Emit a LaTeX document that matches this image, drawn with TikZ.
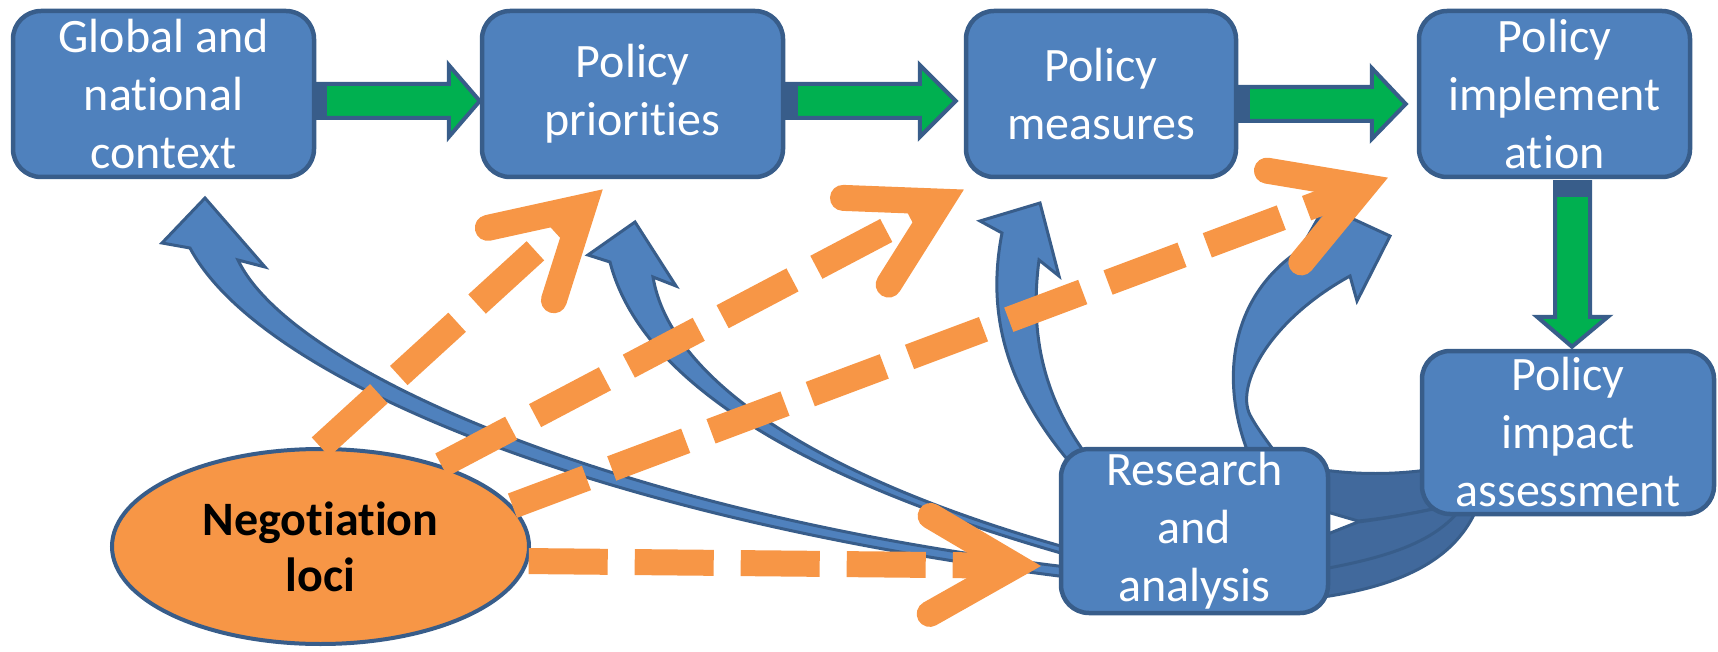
\documentclass[tikz,border=0pt]{standalone}
\usepackage{fontspec}
\setmainfont{Carlito}[Ligatures={NoCommon,NoRare,NoContextual},Contextuals={NoAlternate}]
\usetikzlibrary{shapes.geometric,calc}
\definecolor{boxblue}{HTML}{4F81BD}
\definecolor{edgeblue}{HTML}{385D8A}
\definecolor{loopblue}{HTML}{41699C}
\definecolor{arrgreen}{HTML}{00B050}
\definecolor{negorange}{HTML}{F79646}
\newcommand\negarrow[3]{%
  \coordinate (#3) at ($(#2)!12.5pt!(#1)$);
  \draw[odash] (#1) -- (#3);
  \draw[ohead] ($(#3)!49pt!30:(#1)$) -- (#3) -- ($(#3)!49pt!-30:(#1)$);
}
\begin{document}
\begin{tikzpicture}[x=0.5pt,y=-0.5pt,
  box/.style={draw=edgeblue, line width=2.25pt, fill=boxblue, rounded corners=14pt,
    text=white, align=center, inner sep=0pt,
    font=\fontsize{24pt}{29pt}\selectfont},
  negell/.style={ellipse, draw=edgeblue, line width=2pt, fill=negorange, inner sep=0pt,
    align=center, font=\fontsize{24pt}{28pt}\selectfont\bfseries},
  barrow/.style={fill=boxblue, draw=edgeblue, line width=1.5pt, line join=miter},
  loopband/.style={fill=loopblue, draw=edgeblue, line width=1.5pt, line join=round},
  garrow/.style={fill=arrgreen, draw=edgeblue, line width=2pt, line join=miter},
  odash/.style={draw=negorange, line width=13pt, dash pattern=on 39.5pt off 13.5pt, line cap=butt},
  ohead/.style={draw=negorange, line width=13pt, line cap=round, line join=miter}]
\useasboundingbox (0,0) rectangle (1718,652);

% loop band between impact assessment and research (behind boxes)
\draw[loopband] (1300,504) -- (1358,521) .. controls (1390,518) and (1420,512) .. (1452,505)
  -- (1452,466) .. controls (1400,476) and (1350,476) .. (1300,466) -- cycle;
\draw[loopband] (1300,545) -- (1358,522) .. controls (1390,518) and (1420,512) .. (1452,505)
  -- (1480,500) .. controls (1458,565) and (1390,590) .. (1300,600) -- cycle;
\draw[edgeblue, line width=1.5pt] (1300,573) .. controls (1380,560) and (1430,545) .. (1458,512);

% curved blue arrows from research
\draw[barrow] (1075,568) .. controls (620,515) and (290,370) .. (238,260) -- (265,267) -- (205,198)
  -- (162,243) -- (190,248) .. controls (260,380) and (600,520) .. (1075,578) -- cycle;
\draw[barrow] (1075,550) .. controls (820,480) and (670,380) .. (653,277) -- (676,286) -- (635,222)
  -- (588,255) -- (610,262) .. controls (640,380) and (800,480) .. (1075,557) -- cycle;
\draw[barrow] (1098,470) .. controls (1040,400) and (1030,330) .. (1039,260) -- (1059,276) -- (1040,203)
  -- (980,221) -- (1002,233) .. controls (985,320) and (1010,395) .. (1078,472) -- cycle;
\draw[barrow] (1300,250) -- (1325,206) -- (1390,236) -- (1357,301) -- (1350,276)
  .. controls (1270,320) and (1235,385) .. (1250,415) .. controls (1258,430) and (1268,442) .. (1282,462)
  -- (1252,462) .. controls (1220,390) and (1225,300) .. (1300,250) -- cycle;

% boxes
\node[box, minimum width=150.5pt, minimum height=83pt] (glob) at (163.5,94) {Global and\\national\\context};
\node[box, minimum width=150.5pt, minimum height=83pt] (prio) at (632.5,94) {Policy\\priorities};
\node[box, minimum width=135pt, minimum height=83pt] (meas) at (1101,94) {Policy\\measures};
\node[box, minimum width=135.5pt, minimum height=83pt] (impl) at (1554.5,94) {Policy\\implement\\ation};
\node[box, minimum width=146pt, minimum height=81.5pt] (imp) at (1568,432.5) {Policy\\impact\\assessment};
\node[box, minimum width=133.5pt, minimum height=82pt] (res) at (1194.5,531) {Research\\and\\analysis};
\node[negell, minimum width=208.5pt, minimum height=97.5pt] (neg) at (320.5,546.5) {Negotiation\\loci};

% green block arrows
\draw[garrow] (glob.east |- 0,84) -- ($(prio.west |- 0,84)+(-31,0)$) -- ($(prio.west |- 0,65)+(-31,0)$)
  -- (prio.west |- 0,101) -- ($(prio.west |- 0,137)+(-31,0)$) -- ($(prio.west |- 0,118)+(-31,0)$)
  -- (glob.east |- 0,118) -- cycle;
\fill[edgeblue] (glob.east |- 0,83) rectangle ($(glob.east |- 0,119)+(11,0)$);

\draw[garrow] (prio.east |- 0,84) -- ($(meas.west |- 0,84)+(-44,0)$) -- ($(meas.west |- 0,65)+(-44,0)$)
  -- ($(meas.west |- 0,101)+(-8,0)$) -- ($(meas.west |- 0,137)+(-44,0)$) -- ($(meas.west |- 0,118)+(-44,0)$)
  -- (prio.east |- 0,118) -- cycle;
\fill[edgeblue] (prio.east |- 0,83) rectangle ($(prio.east |- 0,119)+(13,0)$);

\draw[garrow] (meas.east |- 0,87) -- ($(impl.west |- 0,87)+(-45,0)$) -- ($(impl.west |- 0,68)+(-45,0)$)
  -- ($(impl.west |- 0,104)+(-11,0)$) -- ($(impl.west |- 0,139)+(-45,0)$) -- ($(impl.west |- 0,121)+(-45,0)$)
  -- (meas.east |- 0,121) -- cycle;
\fill[edgeblue] (meas.east |- 0,86) rectangle ($(meas.east |- 0,122)+(12,0)$);

\draw[garrow] ($(1555,0 |- impl.south)+(0,3)$) -- ($(1555,0 |- imp.north)+(0,-32)$) -- ($(1537,0 |- imp.north)+(0,-32)$)
  -- ($(1572,0 |- imp.north)+(0,-2)$) -- ($(1608,0 |- imp.north)+(0,-32)$) -- ($(1590,0 |- imp.north)+(0,-32)$)
  -- ($(1590,0 |- impl.south)+(0,3)$) -- cycle;
\fill[edgeblue] ($(1554,0 |- impl.south)+(0,3)$) rectangle ($(1591,0 |- impl.south)+(0,18)$);

% orange dashed arrows from negotiation loci
\coordinate (tipP) at (602,190);
\coordinate (tipM) at (963,190);
\coordinate (tipI) at (1387,178);
\coordinate (tipR) at (1040,566);
\negarrow{neg.90}{tipP}{endP}
\negarrow{neg.34}{tipM}{endM}
\negarrow{neg.12}{tipI}{endI}
\negarrow{neg.356.5}{tipR}{endR}
\end{tikzpicture}
\end{document}
